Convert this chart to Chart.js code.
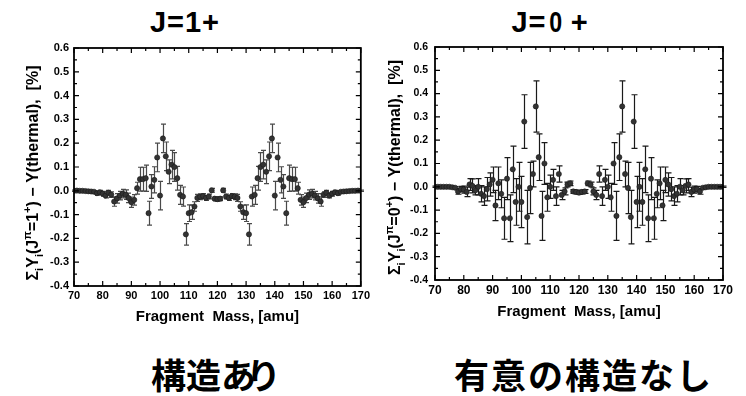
<!DOCTYPE html>
<html>
<head>
<meta charset="utf-8">
<script src="https://cdn.jsdelivr.net/npm/chart.js@4/dist/chart.umd.min.js"></script>
<style>
  body { margin: 0; background: #fff; }
  #wrap { position: relative; width: 746px; height: 396px; overflow: hidden; }
  canvas { position: absolute; top: 0; }
  .ttl { position: absolute; font: bold 29px "Liberation Sans", Arial, sans-serif; letter-spacing: 1px; line-height: 1; white-space: nowrap; transform: translateX(-50%); }
  .ttl .z { display: inline-block; transform: scaleX(0.8); margin: 0 6px 0 1px; }
  .jp { position: absolute; font: bold 35px "Noto Sans CJK JP", sans-serif; line-height: 1; white-space: nowrap; }
</style>
</head>
<body>
<div id="wrap">
  <div class="ttl" style="left:185px; top:8px;">J=1+</div>
  <div class="ttl" style="left:550px; top:8px;">J=<span class="z">0</span>+</div>
  <canvas id="chartJ1" width="373" height="330" style="left:0px;"></canvas>
  <canvas id="chartJ0" width="373" height="330" style="left:373px;"></canvas>
  <div class="jp" style="left:151px; top:356px;">構造<span style="letter-spacing:-10px">あ</span>り</div>
  <div class="jp" style="left:454px; top:356px; letter-spacing:2px;">有意の構造なし</div>
</div>
<script>
// fragment masses, amu
var masses = [
  70, 71, 72, 73, 74, 75, 76, 77, 78, 79, 80, 81, 82, 83, 84, 85, 86, 87, 88, 89,
  90, 91, 92, 93, 94, 95, 96, 97, 98, 99, 100, 101, 102, 103, 104, 105, 106, 107, 108, 109,
  110, 111, 112, 113, 114, 115, 116, 117, 118, 119, 120, 121, 122, 123, 124, 125, 126, 127, 128, 129,
  130, 131, 132, 133, 134, 135, 136, 137, 138, 139, 140, 141, 142, 143, 144, 145, 146, 147, 148, 149,
  150, 151, 152, 153, 154, 155, 156, 157, 158, 159, 160, 161, 162, 163, 164, 165, 166, 167, 168, 169, 170
];

// yield difference J=1+ minus thermal, [%]
var diffJ1 = [
  0.000, 0.001, 0.000, 0.000, -0.001, -0.002, -0.003, -0.004, -0.010, -0.006,
  -0.012, -0.020, -0.008, -0.016, -0.045, -0.032, -0.020, -0.012, -0.016, -0.030,
  -0.048, -0.038, 0.011, 0.049, 0.049, 0.053, -0.094, 0.018, 0.046, 0.140,
  -0.020, 0.220, 0.145, 0.080, 0.110, 0.100, 0.053, -0.017, -0.024, -0.183,
  -0.094, -0.090, -0.066, -0.030, -0.025, -0.022, -0.030, -0.024, 0.002, -0.033,
  -0.035,
  -0.033, 0.002, -0.024, -0.030, -0.022, -0.025, -0.030, -0.066, -0.090, -0.094,
  -0.183, -0.024, -0.017, 0.053, 0.100, 0.110, 0.080, 0.145, 0.220, -0.020,
  0.140, 0.046, 0.018, -0.094, 0.053, 0.049, 0.049, 0.011, -0.038, -0.048,
  -0.030, -0.016, -0.012, -0.020, -0.032, -0.045, -0.016, -0.008, -0.020, -0.012,
  -0.006, -0.010, -0.004, -0.003, -0.002, -0.001, 0.000, 0.000, 0.001, 0.000
];
var errJ1 = [
  0.003, 0.003, 0.003, 0.003, 0.003, 0.003, 0.004, 0.004, 0.008, 0.008,
  0.010, 0.010, 0.010, 0.012, 0.020, 0.020, 0.018, 0.018, 0.020, 0.020,
  0.022, 0.022, 0.025, 0.050, 0.050, 0.055, 0.050, 0.050, 0.055, 0.060,
  0.060, 0.060, 0.060, 0.050, 0.060, 0.060, 0.050, 0.040, 0.040, 0.045,
  0.035, 0.030, 0.020, 0.015, 0.012, 0.010, 0.010, 0.010, 0.008, 0.008,
  0.008,
  0.008, 0.008, 0.010, 0.010, 0.010, 0.012, 0.015, 0.020, 0.030, 0.035,
  0.045, 0.040, 0.040, 0.050, 0.060, 0.060, 0.050, 0.060, 0.060, 0.060,
  0.060, 0.055, 0.050, 0.050, 0.055, 0.050, 0.050, 0.025, 0.022, 0.022,
  0.020, 0.020, 0.018, 0.018, 0.020, 0.020, 0.012, 0.010, 0.010, 0.010,
  0.008, 0.008, 0.004, 0.004, 0.003, 0.003, 0.003, 0.003, 0.003, 0.003
];

// yield difference J=0+ minus thermal, [%]
var diffJ0 = [
  0.000, 0.000, 0.000, 0.000, 0.000, 0.000, -0.002, -0.004, -0.020, -0.010,
  -0.012, -0.022, 0.010, 0.004, -0.015, 0.000, -0.030, -0.040, -0.010, 0.010,
  0.030, -0.080, 0.015, -0.030, -0.135, 0.035, -0.135, 0.075, -0.065, 0.000,
  -0.065, 0.280, -0.130, -0.005, 0.055, 0.345, 0.127, -0.125, 0.100, -0.045,
  0.000, 0.030, -0.040, 0.055, -0.035, -0.020, 0.010, 0.015, -0.020, -0.022,
  -0.025,
  -0.022, -0.020, 0.015, 0.010, -0.020, -0.035, 0.055, -0.040, 0.030, 0.000,
  -0.045, 0.100, -0.125, 0.127, 0.345, 0.055, -0.005, -0.130, 0.280, -0.065,
  0.000, -0.065, 0.075, -0.135, 0.035, -0.135, -0.030, 0.015, -0.080, 0.030,
  0.010, -0.010, -0.040, -0.030, 0.000, -0.015, 0.004, 0.010, -0.022, -0.012,
  -0.010, -0.020, -0.004, -0.002, 0.000, 0.000, 0.000, 0.000, 0.000, 0.000
];
var errJ0 = [
  0.003, 0.003, 0.003, 0.003, 0.003, 0.003, 0.004, 0.005, 0.012, 0.012,
  0.015, 0.020, 0.025, 0.030, 0.020, 0.035, 0.035, 0.040, 0.050, 0.050,
  0.055, 0.065, 0.070, 0.060, 0.090, 0.090, 0.100, 0.100, 0.100, 0.105,
  0.110, 0.115, 0.115, 0.110, 0.055, 0.110, 0.100, 0.105, 0.090, 0.060,
  0.050, 0.045, 0.040, 0.035, 0.020, 0.015, 0.010, 0.010, 0.008, 0.008,
  0.008,
  0.008, 0.008, 0.010, 0.010, 0.015, 0.020, 0.035, 0.040, 0.045, 0.050,
  0.060, 0.090, 0.105, 0.100, 0.110, 0.055, 0.110, 0.115, 0.115, 0.110,
  0.105, 0.100, 0.100, 0.100, 0.090, 0.090, 0.060, 0.070, 0.065, 0.055,
  0.050, 0.050, 0.040, 0.035, 0.035, 0.020, 0.030, 0.025, 0.020, 0.015,
  0.012, 0.012, 0.005, 0.004, 0.003, 0.003, 0.003, 0.003, 0.003, 0.003
];

var yTicks = [-0.4, -0.3, -0.2, -0.1, 0.0, 0.1, 0.2, 0.3, 0.4, 0.5, 0.6];
var xTicks = [70, 80, 90, 100, 110, 120, 130, 140, 150, 160, 170];

var FONT = '"Liberation Sans", Arial, sans-serif';

// vertical error bars with caps, drawn under the points
var errorBars = {
  id: 'errorBars',
  beforeDatasetsDraw(chart, args, opts) {
    const ctx = chart.ctx, x = chart.scales.x, y = chart.scales.y;
    const ds = chart.data.datasets[0];
    ctx.save();
    ctx.strokeStyle = opts.color;
    ctx.lineWidth = 1.2;
    ds.data.forEach(function (p, i) {
      const e = ds.errors[i];
      const px = Math.round(x.getPixelForValue(p.x)) + 0.5;
      const top = y.getPixelForValue(p.y + e), bot = y.getPixelForValue(p.y - e);
      ctx.beginPath();
      ctx.moveTo(px, top); ctx.lineTo(px, bot);
      ctx.moveTo(px - opts.cap, top); ctx.lineTo(px + opts.cap, top);
      ctx.moveTo(px - opts.cap, bot); ctx.lineTo(px + opts.cap, bot);
      ctx.stroke();
    });
    ctx.restore();
  }
};

// closed frame with inward major/minor ticks on all four sides
var frameTicks = {
  id: 'frameTicks',
  afterDraw(chart) {
    const ctx = chart.ctx, a = chart.chartArea, x = chart.scales.x, y = chart.scales.y;
    ctx.save();
    ctx.strokeStyle = '#000';
    ctx.lineWidth = 1.8;
    ctx.strokeRect(a.left, a.top, a.right - a.left, a.bottom - a.top);
    ctx.lineWidth = 1.2;
    ctx.beginPath();
    xTicks.forEach(function (v, i) {
      const px = x.getPixelForValue(v);
      ctx.moveTo(px, a.bottom); ctx.lineTo(px, a.bottom - 5);
      ctx.moveTo(px, a.top); ctx.lineTo(px, a.top + 5);
      if (i < xTicks.length - 1) {
        const pm = x.getPixelForValue((v + xTicks[i + 1]) / 2);
        ctx.moveTo(pm, a.bottom); ctx.lineTo(pm, a.bottom - 3);
        ctx.moveTo(pm, a.top); ctx.lineTo(pm, a.top + 3);
      }
    });
    yTicks.forEach(function (v, i) {
      const py = y.getPixelForValue(v);
      ctx.moveTo(a.left, py); ctx.lineTo(a.left + 5, py);
      ctx.moveTo(a.right, py); ctx.lineTo(a.right - 5, py);
      if (i < yTicks.length - 1) {
        const pm = y.getPixelForValue((v + yTicks[i + 1]) / 2);
        ctx.moveTo(a.left, pm); ctx.lineTo(a.left + 3, pm);
        ctx.moveTo(a.right, pm); ctx.lineTo(a.right - 3, pm);
      }
    });
    ctx.stroke();
    ctx.restore();
  }
};

// rotated y title with sub/superscripts
var yTitle = {
  id: 'yTitle',
  afterDraw(chart, args, opts) {
    const ctx = chart.ctx, a = chart.chartArea;
    const size = opts.size;
    const parts = opts.parts;
    ctx.save();
    let total = 0;
    parts.forEach(function (p) {
      ctx.font = 'bold ' + (p.s ? size * 0.7 : size) + 'px ' + FONT;
      p.w = ctx.measureText(p.t).width;
      total += p.w;
    });
    ctx.translate(opts.x, (a.top + a.bottom) / 2 + opts.dy);
    ctx.rotate(-Math.PI / 2);
    ctx.fillStyle = '#000';
    ctx.textBaseline = 'alphabetic';
    let cx = -total / 2;
    parts.forEach(function (p) {
      ctx.font = 'bold ' + (p.s ? size * 0.7 : size) + 'px ' + FONT;
      let off = 0;
      if (p.s === 'sub') off = size * 0.3;
      if (p.s === 'sup') off = -size * 0.45;
      ctx.fillText(p.t, cx, size * 0.4 + off);
      cx += p.w;
    });
    ctx.restore();
  }
};

function titleParts(j) {
  return [
    { t: 'Σ' }, { t: 'i', s: 'sub' }, { t: 'Y' }, { t: 'i', s: 'sub' }, { t: '(J' },
    { t: 'π', s: 'sup' }, { t: '=' + j }, { t: '+', s: 'sup' }, { t: ') − Y(thermal),  [%]' }
  ];
}

function makeChart(id, diff, err, cfg) {
  const points = masses.map(function (m, i) { return { x: m, y: diff[i] }; });
  return new Chart(document.getElementById(id), {
    type: 'scatter',
    data: {
      datasets: [{
        data: points,
        errors: err,
        pointRadius: 2.6,
        pointBackgroundColor: '#333',
        pointBorderColor: '#1a1a1a',
        pointBorderWidth: 0.6
      }]
    },
    options: {
      responsive: false,
      animation: false,
      layout: { padding: { top: cfg.top, right: cfg.right, left: 0, bottom: 0 } },
      plugins: {
        legend: { display: false },
        tooltip: { enabled: false },
        errorBars: { color: cfg.barColor, cap: cfg.cap },
        yTitle: { x: cfg.titleX, dy: cfg.titleDy, size: 16, parts: titleParts(cfg.j) }
      },
      scales: {
        x: {
          type: 'linear',
          min: 70, max: 170,
          afterFit: function (s) { s.height = cfg.xHeight; },
          afterBuildTicks: function (s) { s.ticks = xTicks.map(function (v) { return { value: v }; }); },
          grid: { display: false, drawTicks: false },
          border: { display: false },
          ticks: { padding: 3, color: '#000', font: { family: FONT, weight: 'bold', size: cfg.xFont } },
          title: {
            display: true,
            text: 'Fragment  Mass, [amu]',
            color: '#000',
            font: { family: FONT, weight: 'bold', size: 15 },
            padding: { top: 0, bottom: cfg.xTitlePad }
          }
        },
        y: {
          min: -0.4, max: 0.6,
          afterFit: function (s) { s.width = cfg.yWidth; },
          afterBuildTicks: function (s) { s.ticks = yTicks.map(function (v) { return { value: v }; }); },
          grid: { display: false, drawTicks: false },
          border: { display: false },
          ticks: {
            padding: cfg.yPad,
            color: '#000',
            font: { family: FONT, weight: 'bold', size: cfg.yFont },
            callback: function (v) { return Number(v).toFixed(1); }
          }
        }
      }
    },
    plugins: [errorBars, frameTicks, yTitle]
  });
}

makeChart('chartJ1', diffJ1, errJ1, {
  j: '1', top: 48, right: 7, yWidth: 74, xHeight: 44, xTitlePad: 4,
  yPad: 5, xFont: 11, yFont: 11, titleX: 32, titleDy: 6,
  barColor: '#4a4a4a', cap: 2.5
});
makeChart('chartJ0', diffJ0, errJ0, {
  j: '0', top: 47, right: 23, yWidth: 62, xHeight: 50, xTitlePad: 9,
  yPad: 7, xFont: 12, yFont: 10.5, titleX: 21, titleDy: 4,
  barColor: '#1a1a1a', cap: 3
});
</script>
</body>
</html>
